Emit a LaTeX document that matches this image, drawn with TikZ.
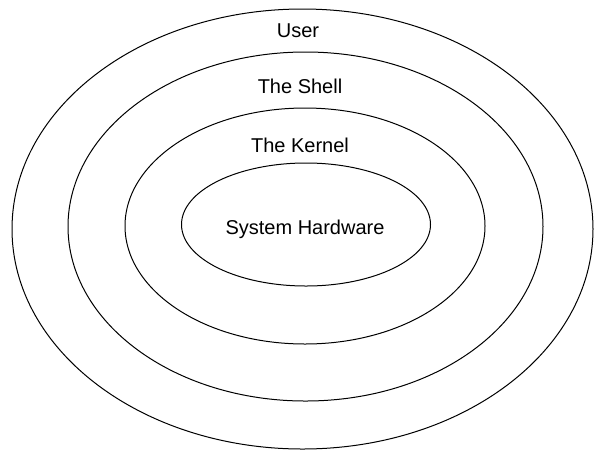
\documentclass[tikz,border=0pt]{standalone}
\usepackage{fontspec}
\setmainfont{Liberation Sans}

\begin{document}
\begin{tikzpicture}[x=1pt,y=-1pt,line width=1pt,
        layer/.style={anchor=base,font=\fontsize{20}{24}\selectfont}]
        \useasboundingbox (0,0) rectangle (594,451);

        % centres of the four rings
        \coordinate (userc) at (302.5,229);
        \coordinate (shellc) at (305.5,226.5);
        \coordinate (kernelc) at (305,226);
        \coordinate (hwc) at (306,224.5);

        % draw the rings, outside to inside
        \draw (userc) ellipse (290.5 and 220);
        \draw (shellc) ellipse (237.5 and 174.5);
        \draw (kernelc) ellipse (180 and 118);
        \draw (hwc) ellipse (124.5 and 61.5);

        % write the layer names
        \node[layer] (user) at (298,37) {User};
        \node[layer] (shell) at (300,93) {The Shell};
        \node[layer] (kernel) at (300,152) {The Kernel};
        \node[layer] (hw) at (305,234) {System Hardware};

\end{tikzpicture}
\end{document}
